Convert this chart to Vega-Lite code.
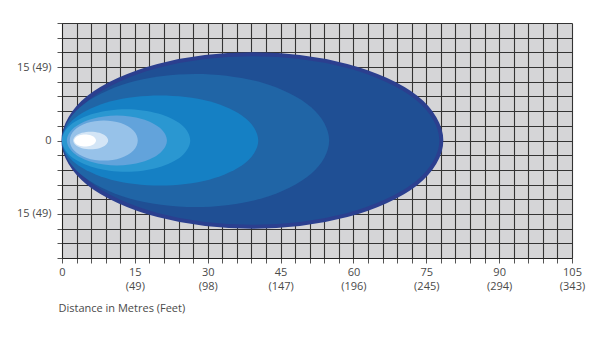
{
  "$schema": "https://vega.github.io/schema/vega-lite/v6.json",
  "autosize": "none",
  "width": 510,
  "height": 235,
  "padding": {"left": 62, "top": 23, "right": 28, "bottom": 81},
  "background": "#ffffff",
  "config": {
    "view": {"fill": "#d5d5d7", "stroke": null},
    "axis": {
      "labelFont": "Open Sans",
      "labelFontSize": 11,
      "labelColor": "#4a4a4a",
      "titleFont": "Open Sans",
      "titleFontSize": 11,
      "titleFontWeight": "normal",
      "titleColor": "#4a4a4a",
      "grid": true,
      "gridColor": "#333333",
      "gridWidth": 1.1,
      "gridOpacity": 1,
      "tickColor": "#555555",
      "tickSize": 5,
      "domainColor": "#222222",
      "labelFlush": false,
      "labelOverlap": false
    }
  },
  "data": {
    "values": [
      {"ring": "r1", "i": 0, "x": 78.1, "y": 0},
      {"ring": "r1", "i": 1, "x": 72.9, "y": 8.8},
      {"ring": "r1", "i": 2, "x": 58.65, "y": 15.24},
      {"ring": "r1", "i": 3, "x": 39.2, "y": 17.6},
      {"ring": "r1", "i": 4, "x": 19.75, "y": 15.24},
      {"ring": "r1", "i": 5, "x": 5.5, "y": 8.8},
      {"ring": "r1", "i": 6, "x": 0.3, "y": 0},
      {"ring": "r1", "i": 7, "x": 5.5, "y": -8.8},
      {"ring": "r1", "i": 8, "x": 19.75, "y": -15.24},
      {"ring": "r1", "i": 9, "x": 39.2, "y": -17.6},
      {"ring": "r1", "i": 10, "x": 58.65, "y": -15.24},
      {"ring": "r1", "i": 11, "x": 72.9, "y": -8.8},

      {"ring": "r2", "i": 0, "x": 55, "y": 0},
      {"ring": "r2", "i": 1, "x": 51.3, "y": 6.8},
      {"ring": "r2", "i": 2, "x": 41.25, "y": 11.8},
      {"ring": "r2", "i": 3, "x": 27.5, "y": 13.6},
      {"ring": "r2", "i": 4, "x": 13.75, "y": 11.8},
      {"ring": "r2", "i": 5, "x": 3.7, "y": 6.8},
      {"ring": "r2", "i": 6, "x": 0, "y": 0},
      {"ring": "r2", "i": 7, "x": 3.7, "y": -6.8},
      {"ring": "r2", "i": 8, "x": 13.75, "y": -11.8},
      {"ring": "r2", "i": 9, "x": 27.5, "y": -13.6},
      {"ring": "r2", "i": 10, "x": 41.25, "y": -11.8},
      {"ring": "r2", "i": 11, "x": 51.3, "y": -6.8},

      {"ring": "r3", "i": 0, "x": 40.4, "y": 0},
      {"ring": "r3", "i": 1, "x": 37.7, "y": 4.6},
      {"ring": "r3", "i": 2, "x": 30.3, "y": 8.0},
      {"ring": "r3", "i": 3, "x": 20.2, "y": 9.2},
      {"ring": "r3", "i": 4, "x": 10.1, "y": 8.0},
      {"ring": "r3", "i": 5, "x": 2.7, "y": 4.6},
      {"ring": "r3", "i": 6, "x": 0, "y": 0},
      {"ring": "r3", "i": 7, "x": 2.7, "y": -4.6},
      {"ring": "r3", "i": 8, "x": 10.1, "y": -8.0},
      {"ring": "r3", "i": 9, "x": 20.2, "y": -9.2},
      {"ring": "r3", "i": 10, "x": 30.3, "y": -8.0},
      {"ring": "r3", "i": 11, "x": 37.7, "y": -4.6},

      {"ring": "r4", "i": 0, "x": 26.4, "y": 0},
      {"ring": "r4", "i": 1, "x": 24.6, "y": 3.2},
      {"ring": "r4", "i": 2, "x": 19.8, "y": 5.5},
      {"ring": "r4", "i": 3, "x": 13.2, "y": 6.4},
      {"ring": "r4", "i": 4, "x": 6.6, "y": 5.5},
      {"ring": "r4", "i": 5, "x": 1.8, "y": 3.2},
      {"ring": "r4", "i": 6, "x": 0, "y": 0},
      {"ring": "r4", "i": 7, "x": 1.8, "y": -3.2},
      {"ring": "r4", "i": 8, "x": 6.6, "y": -5.5},
      {"ring": "r4", "i": 9, "x": 13.2, "y": -6.4},
      {"ring": "r4", "i": 10, "x": 19.8, "y": -5.5},
      {"ring": "r4", "i": 11, "x": 24.6, "y": -3.2},

      {"ring": "r5", "i": 0, "x": 21.6, "y": 0},
      {"ring": "r5", "i": 1, "x": 20.2, "y": 2.55},
      {"ring": "r5", "i": 2, "x": 16.45, "y": 4.4},
      {"ring": "r5", "i": 3, "x": 11.3, "y": 5.1},
      {"ring": "r5", "i": 4, "x": 6.15, "y": 4.4},
      {"ring": "r5", "i": 5, "x": 2.4, "y": 2.55},
      {"ring": "r5", "i": 6, "x": 1.0, "y": 0},
      {"ring": "r5", "i": 7, "x": 2.4, "y": -2.55},
      {"ring": "r5", "i": 8, "x": 6.15, "y": -4.4},
      {"ring": "r5", "i": 9, "x": 11.3, "y": -5.1},
      {"ring": "r5", "i": 10, "x": 16.45, "y": -4.4},
      {"ring": "r5", "i": 11, "x": 20.2, "y": -2.55},

      {"ring": "r6", "i": 0, "x": 15.6, "y": 0},
      {"ring": "r6", "i": 1, "x": 14.7, "y": 2.05},
      {"ring": "r6", "i": 2, "x": 12.1, "y": 3.55},
      {"ring": "r6", "i": 3, "x": 8.6, "y": 4.1},
      {"ring": "r6", "i": 4, "x": 5.1, "y": 3.55},
      {"ring": "r6", "i": 5, "x": 2.5, "y": 2.05},
      {"ring": "r6", "i": 6, "x": 1.6, "y": 0},
      {"ring": "r6", "i": 7, "x": 2.5, "y": -2.05},
      {"ring": "r6", "i": 8, "x": 5.1, "y": -3.55},
      {"ring": "r6", "i": 9, "x": 8.6, "y": -4.1},
      {"ring": "r6", "i": 10, "x": 12.1, "y": -3.55},
      {"ring": "r6", "i": 11, "x": 14.7, "y": -2.05},

      {"ring": "r7", "i": 0, "x": 9.5, "y": 0},
      {"ring": "r7", "i": 1, "x": 9.0, "y": 0.9},
      {"ring": "r7", "i": 2, "x": 7.7, "y": 1.56},
      {"ring": "r7", "i": 3, "x": 5.9, "y": 1.8},
      {"ring": "r7", "i": 4, "x": 4.1, "y": 1.56},
      {"ring": "r7", "i": 5, "x": 2.8, "y": 0.9},
      {"ring": "r7", "i": 6, "x": 2.3, "y": 0},
      {"ring": "r7", "i": 7, "x": 2.8, "y": -0.9},
      {"ring": "r7", "i": 8, "x": 4.1, "y": -1.56},
      {"ring": "r7", "i": 9, "x": 5.9, "y": -1.8},
      {"ring": "r7", "i": 10, "x": 7.7, "y": -1.56},
      {"ring": "r7", "i": 11, "x": 9.0, "y": -0.9},

      {"ring": "r8", "i": 0, "x": 7.0, "y": 0},
      {"ring": "r8", "i": 1, "x": 6.7, "y": 0.63},
      {"ring": "r8", "i": 2, "x": 5.9, "y": 1.08},
      {"ring": "r8", "i": 3, "x": 4.75, "y": 1.25},
      {"ring": "r8", "i": 4, "x": 3.6, "y": 1.08},
      {"ring": "r8", "i": 5, "x": 2.8, "y": 0.63},
      {"ring": "r8", "i": 6, "x": 2.5, "y": 0},
      {"ring": "r8", "i": 7, "x": 2.8, "y": -0.63},
      {"ring": "r8", "i": 8, "x": 3.6, "y": -1.08},
      {"ring": "r8", "i": 9, "x": 4.75, "y": -1.25},
      {"ring": "r8", "i": 10, "x": 5.9, "y": -1.08},
      {"ring": "r8", "i": 11, "x": 6.7, "y": -0.63}
    ]
  },
  "mark": {"type": "line", "interpolate": "cardinal-closed", "fillOpacity": 1, "strokeJoin": "round"},
  "encoding": {
    "x": {
      "field": "x",
      "type": "quantitative",
      "scale": {"domain": [0, 105], "nice": false, "zero": false},
      "axis": {
        "values": [0, 3, 6, 9, 12, 15, 18, 21, 24, 27, 30, 33, 36, 39, 42, 45, 48, 51, 54, 57, 60, 63, 66, 69, 72, 75, 78, 81, 84, 87, 90, 93, 96, 99, 102, 105],
        "labelExpr": "datum.value == 0 ? '0' : datum.value % 15 == 0 ? [datum.label, {'15':'(49)','30':'(98)','45':'(147)','60':'(196)','75':'(245)','90':'(294)','105':'(343)'}[datum.label]] : ''",
        "labelPadding": 3,
        "labelLineHeight": 14,
        "labelBaseline": "top",
        "title": "Distance in Metres (Feet)",
        "titleX": -4,
        "titleY": 50,
        "titleAlign": "left",
        "titleBaseline": "middle",
        "titleAnchor": "start"
      }
    },
    "y": {
      "field": "y",
      "type": "quantitative",
      "scale": {"domain": [-24, 24], "nice": false, "zero": false},
      "axis": {
        "values": [-24, -21, -18, -15, -12, -9, -6, -3, 0, 3, 6, 9, 12, 15, 18, 21, 24],
        "labelExpr": "datum.value == 0 ? '0' : (datum.value == 15 || datum.value == -15) ? '15 (49)' : ''",
        "labelPadding": 6,
        "title": null
      }
    },
    "order": {"field": "i", "type": "quantitative"},
    "fill": {
      "field": "ring",
      "type": "nominal",
      "scale": {
        "domain": ["r1", "r2", "r3", "r4", "r5", "r6", "r7", "r8"],
        "range": ["#1f4f94", "#2065a6", "#1580c4", "#2a97d1", "#62a3db", "#97c2e9", "#d3e5f6", "#ffffff"]
      },
      "legend": null
    },
    "stroke": {"value": "#2b3f8f"},
    "strokeWidth": {"condition": {"test": "datum.ring === 'r1'", "value": 4}, "value": 0}
  }
}
